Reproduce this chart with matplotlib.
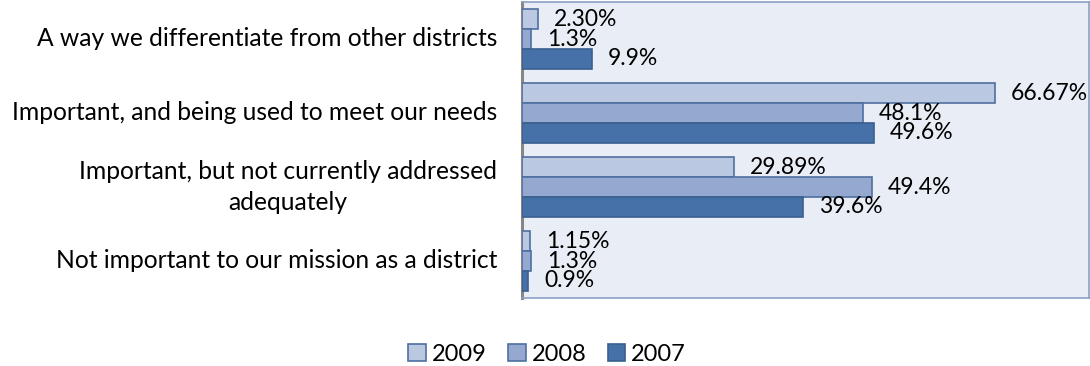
import matplotlib
matplotlib.use("Agg")
import matplotlib.pyplot as plt
from matplotlib.patches import Patch
import numpy as np

categories = [
    "A way we differentiate from other districts",
    "Important, and being used to meet our needs",
    "Important, but not currently addressed\nadequately",
    "Not important to our mission as a district",
]
years = ["2009", "2008", "2007"]
v2009 = [2.30, 66.67, 29.89, 1.15]
v2008 = [1.3, 48.1, 49.4, 1.3]
v2007 = [9.9, 49.6, 39.6, 0.9]
labels2009 = ["2.30%", "66.67%", "29.89%", "1.15%"]
labels2008 = ["1.3%", "48.1%", "49.4%", "1.3%"]
labels2007 = ["9.9%", "49.6%", "39.6%", "0.9%"]

plt.rcParams['font.family'] = ['Lato', 'DejaVu Sans']

fill = ["#BBC8E1", "#94A8D0", "#4571A8"]
edge = ["#4F6FA0", "#4F6FA0", "#3A5F8F"]

fig = plt.figure(figsize=(10.9, 3.66), dpi=100)
ax = fig.add_axes([522/1090, 1-298/366, 567/1090, 296/366])
ax.set_facecolor("#E9EDF5")

y = np.arange(len(categories))
h = 0.27
series = [(v2009, labels2009), (v2008, labels2008), (v2007, labels2007)]
offs = [-h, 0, h]
for i, (vals, labs) in enumerate(series):
    bars = ax.barh(y + offs[i], vals, height=h, color=fill[i], edgecolor=edge[i], linewidth=1.2, zorder=3)
    for b, lab in zip(bars, labs):
        ax.annotate(lab, (b.get_width(), b.get_y() + b.get_height()/2), xytext=(11.5, 0),
                    textcoords="offset points", va="center", ha="left", fontsize=16.5,
                    color="#000000", zorder=4, annotation_clip=False)

ax.set_xlim(0, 80)
ax.set_ylim(3.5, -0.5)
ax.set_yticks(y)
ax.set_yticklabels([])
ax.tick_params(axis="y", length=0, pad=0)
ax.set_xticks([])
for sp in ["top", "right", "bottom"]:
    ax.spines[sp].set_color("#8DA0C3")
    ax.spines[sp].set_linewidth(1.2)
ax.spines["left"].set_color("#868686")
ax.spines["left"].set_linewidth(2.2)

for yi, cat in zip(y, categories):
    ax.annotate(cat, (0, yi), xycoords=("axes fraction", "data"), xytext=(-18, 0),
                textcoords="offset points", ha="right", va="center", multialignment="center",
                fontsize=17.7, color="#000000", linespacing=1.47)

handles = [Patch(facecolor=fill[i], edgecolor=edge[i], linewidth=1.2, label=years[i]) for i in range(3)]
fig.legend(handles=handles, loc="center", bbox_to_anchor=(0.502, 0.032), ncol=3, frameon=False,
           fontsize=17, handlelength=0.75, handleheight=0.75, handletextpad=0.25, columnspacing=0.9)

fig.savefig("out.png", dpi=100)
